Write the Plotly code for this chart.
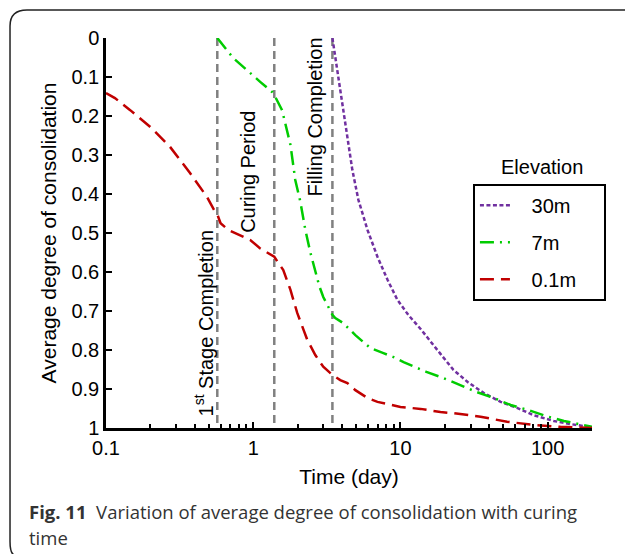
import plotly.graph_objects as go

# ---- data ----
purple_x = [3.45, 3.72, 4.03, 4.36, 4.71, 5.18, 5.97, 6.98, 8.17, 9.55, 11.3, 13.7, 16, 18.7,
            22.9, 28.6, 36.7, 47.9, 62.5, 80, 110, 143, 200]
purple_y = [0.0, 0.082, 0.177, 0.262, 0.338, 0.415, 0.492, 0.561, 0.62, 0.672, 0.710, 0.746,
            0.779, 0.81, 0.851, 0.882, 0.910, 0.933, 0.949, 0.967, 0.982, 0.99, 0.998]

green_x = [0.57, 0.73, 1.12, 1.35, 1.39, 1.57, 1.79, 1.93, 2.09, 2.26, 2.44, 2.81, 2.99, 3.34,
           3.45, 3.61, 4.09, 4.94, 5.5, 6.25, 7.66, 8.96, 10.5, 13, 15, 19.6, 25.6, 33, 43, 56,
           74, 100, 129, 160, 200]
green_y = [0.0, 0.051, 0.113, 0.139, 0.146, 0.185, 0.274, 0.364, 0.42, 0.492, 0.549, 0.636,
           0.664, 0.702, 0.71, 0.718, 0.731, 0.762, 0.777, 0.795, 0.808, 0.818, 0.831, 0.846,
           0.856, 0.872, 0.890, 0.908, 0.923, 0.941, 0.954, 0.971, 0.982, 0.99, 0.997]

red_x = [0.1, 0.115, 0.146, 0.2, 0.272, 0.372, 0.486, 0.551, 0.57, 0.6, 0.676, 0.955, 1.11,
         1.39, 1.6, 1.79, 1.99, 2.33, 2.64, 2.99, 3.45, 3.9, 4.36, 4.94, 5.97, 6.98, 10, 13.7,
         18.7, 22.9, 35, 53, 80, 122, 200]
red_y = [0.141, 0.154, 0.185, 0.228, 0.279, 0.346, 0.408, 0.446, 0.452, 0.475, 0.492, 0.518,
         0.539, 0.561, 0.595, 0.646, 0.705, 0.774, 0.813, 0.843, 0.864, 0.877, 0.885, 0.903,
         0.923, 0.933, 0.946, 0.951, 0.959, 0.962, 0.971, 0.984, 0.992, 0.997, 1.0]

series_names = ["30m", "7m", "0.1m"]
stage_x = [0.57, 1.39, 3.45]
stage_labels = ["1<sup>st</sup> Stage Completion", "Curing Period", "Filling Completion"]

y_ticks = [0, 0.1, 0.2, 0.3, 0.4, 0.5, 0.6, 0.7, 0.8, 0.9, 1]
y_ticklabels = ["0", "0.1", "0.2", "0.3", "0.4", "0.5", "0.6", "0.7", "0.8", "0.9", "1"]
x_ticks = [0.1, 1, 10, 100]
x_ticklabels = ["0.1", "1", "10", "100"]
x_minor = [0.2, 0.3, 0.4, 0.5, 0.6, 0.7, 0.8, 0.9, 2, 3, 4, 5, 6, 7, 8, 9,
           20, 30, 40, 50, 60, 70, 80, 90, 200]

FONT = "Arial, Liberation Sans, sans-serif"
CAP_FONT = "Open Sans, Noto Sans, sans-serif"
NB = "\u00a0"

fig = go.Figure()

# vertical stage lines
for sx in stage_x:
    fig.add_trace(go.Scatter(x=[sx, sx], y=[0, 1], mode="lines", showlegend=False,
                             hoverinfo="skip",
                             line=dict(color="#808080", width=2.5, dash="8px,5px")))

fig.add_trace(go.Scatter(x=purple_x, y=purple_y, mode="lines",
                         name=NB * 3 + series_names[0] + NB * 4, legendgroup="a",
                         line=dict(color="#7030a0", width=2.5, dash="4px,2.5px")))
fig.add_trace(go.Scatter(x=green_x, y=green_y, mode="lines",
                         name=NB * 3 + series_names[1] + NB * 4, legendgroup="b",
                         line=dict(color="#00cc00", width=2.5, dash="14px,6px,2px,6px")))
fig.add_trace(go.Scatter(x=red_x, y=red_y, mode="lines",
                         name=NB * 3 + series_names[2] + NB * 4, legendgroup="c",
                         line=dict(color="#c00000", width=2.5, dash="14px,7px")))

annotations = []
ann_pos = [(0.2016, 0.0256), (0.292, 0.495), (0.430, 0.590)]
for (px, py), lab in zip(ann_pos, stage_labels):
    annotations.append(dict(xref="paper", yref="paper", x=px, y=py, text=lab,
                            textangle=-90, showarrow=False, xanchor="center",
                            yanchor="bottom", font=dict(family=FONT, size=20, color="#000")))

# legend title
annotations.append(dict(xref="paper", yref="paper", x=0.897, y=0.669, text="Elevation",
                        showarrow=False, xanchor="center", yanchor="middle",
                        font=dict(family=FONT, size=20, color="#000")))

# caption (two lines)
annotations.append(dict(xref="paper", yref="paper", x=-0.163, y=-0.213,
                        text="<b>Fig. 11</b>  Variation of average degree of consolidation with curing",
                        showarrow=False, xanchor="left", yanchor="middle", align="left",
                        font=dict(family=CAP_FONT, size=18.5, color="#333333")))
annotations.append(dict(xref="paper", yref="paper", x=-0.163, y=-0.282,
                        text="time",
                        showarrow=False, xanchor="left", yanchor="middle", align="left",
                        font=dict(family=CAP_FONT, size=18.5, color="#333333")))

fig.update_layout(
    width=625, height=554,
    margin=dict(l=106, r=33, t=38, b=126),
    paper_bgcolor="white", plot_bgcolor="white",
    font=dict(family=FONT, size=20, color="#000"),
    showlegend=True,
    legend=dict(x=0.755, y=0.626, xanchor="left", yanchor="top",
                bordercolor="#000", borderwidth=2, bgcolor="white",
                font=dict(family=FONT, size=20), traceorder="grouped",
                tracegroupgap=8, itemwidth=30),
    annotations=annotations,
    shapes=[dict(type="path", xref="paper", yref="paper", layer="above",
                 path="M 1.2 1.0718 L -0.1626 1.0718 Q -0.1975 1.0718 -0.1975 1.0308 "
                      "L -0.1975 -0.2913 Q -0.1975 -0.32 -0.19 -0.325",
                 line=dict(color="#222", width=1.5))],
)

fig.update_xaxes(type="log", range=[-1, 2.301], showgrid=False, zeroline=False,
                 showline=True, linecolor="#000", linewidth=3,
                 ticks="inside", ticklen=6, tickwidth=2, tickcolor="#000",
                 tickvals=x_ticks, ticktext=x_ticklabels, tickfont=dict(size=20),
                 minor=dict(ticks="inside", ticklen=4, tickwidth=2, tickcolor="#000",
                            tickvals=x_minor, showgrid=False),
                 title=dict(text="Time (day)", font=dict(size=21), standoff=12))
fig.update_yaxes(range=[1, 0], showgrid=False, zeroline=False,
                 showline=True, linecolor="#000", linewidth=2.5,
                 ticks="inside", ticklen=6, tickwidth=2, tickcolor="#000",
                 tickvals=y_ticks, ticktext=y_ticklabels, tickfont=dict(size=20),
                 title=dict(text="Average degree of consolidation", font=dict(size=21),
                            standoff=10))

fig.write_html("out.html", config={"displayModeBar": False},
               post_script="document.body.style.margin='0';document.body.style.overflow='hidden';")
